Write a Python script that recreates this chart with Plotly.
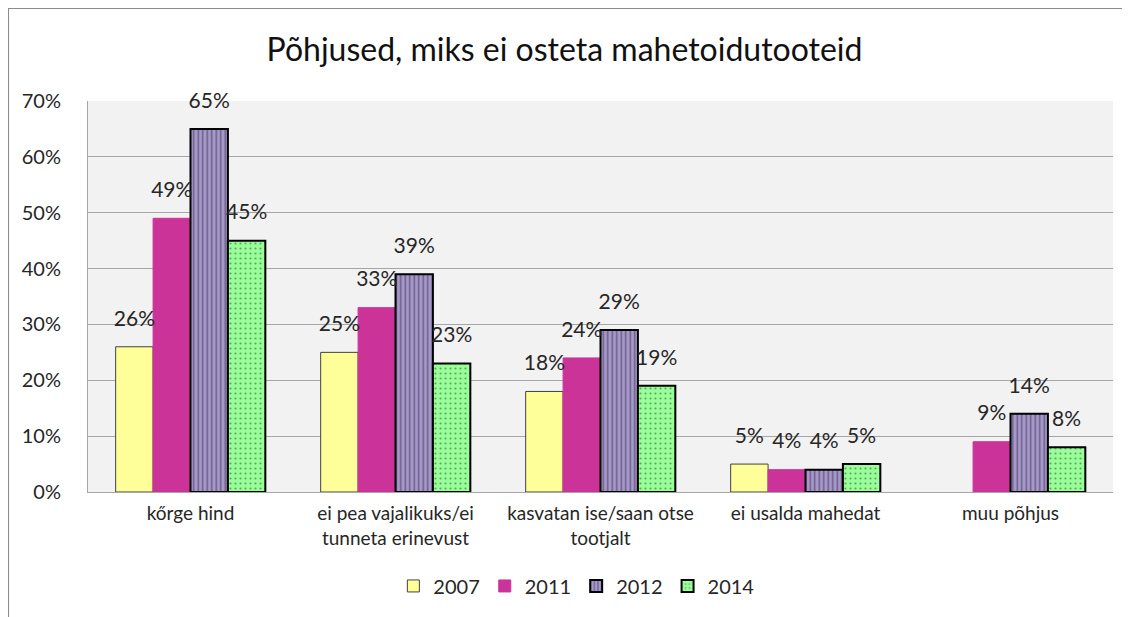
import plotly.graph_objects as go

categories = ["kőrge hind", "ei pea vajalikuks/ei<br>tunneta erinevust",
              "kasvatan ise/saan otse<br>tootjalt", "ei usalda mahedat", "muu põhjus"]
years = ["2007", "2011", "2012", "2014"]
v2007 = [0.26, 0.25, 0.18, 0.05, None]
v2011 = [0.49, 0.33, 0.24, 0.04, 0.09]
v2012 = [0.65, 0.39, 0.29, 0.04, 0.14]
v2014 = [0.45, 0.23, 0.19, 0.05, 0.08]
title = "Põhjused, miks ei osteta mahetoidutooteid"

FONT = "Lato"
TXT = "#262626"

series = [
    (years[0], v2007, dict(color="#FFFF99", line=dict(color="#404040", width=1))),
    (years[1], v2011, dict(color="#CC3399", line=dict(color="#CC3399", width=1))),
    (years[2], v2012, dict(color="#A899CC", line=dict(color="#000000", width=2),
                           pattern=dict(shape="|", fgcolor="#2E2640", size=4.5, solidity=0.35))),
    (years[3], v2014, dict(color="#99FF99", line=dict(color="#000000", width=2),
                           pattern=dict(shape=".", fgcolor="#1E4A1E", size=5, solidity=0.15))),
]

fig = go.Figure()
for name, vals, marker in series:
    fig.add_trace(go.Bar(x=categories, y=vals, name=name, marker=marker, hoverinfo="y"))

# data labels: invisible markers grouped like the bars, text placed above them
for name, vals, _ in series:
    fig.add_trace(go.Scatter(
        x=categories, y=vals, orientation="v", mode="markers+text",
        marker=dict(size=24, opacity=0), showlegend=False, hoverinfo="skip",
        text=[None if v is None else f"{round(v*100)}%" for v in vals],
        textposition="top center", cliponaxis=False,
        textfont=dict(family=FONT, size=21, color=TXT),
    ))

# page body has an 8px default margin, so the figure is slightly smaller and margins compensate
fig.update_layout(
    width=1122, height=609,
    margin=dict(l=80, r=17, t=93, b=125, autoexpand=False),
    paper_bgcolor="white", plot_bgcolor="#F2F2F2",
    barmode="group", bargap=0.27, bargroupgap=0,
    scattermode="group", scattergap=0.27,
    title=dict(text=title, x=0.496, xanchor="center", y=0.931, yanchor="middle",
               font=dict(family=FONT, size=32, color="#111111")),
    font=dict(family=FONT, size=19, color=TXT),
    legend=dict(orientation="h", x=0.507, xref="container", xanchor="center",
                y=0.051, yref="container", yanchor="middle",
                font=dict(family=FONT, size=20, color=TXT), traceorder="normal",
                itemwidth=30, tracegroupgap=0),
    showlegend=True,
)
fig.update_yaxes(range=[0, 0.7], dtick=0.1, tickformat=".0%", showgrid=True,
                 gridcolor="#A6A6A6", gridwidth=1, showline=True, linecolor="#A6A6A6",
                 zeroline=False, ticks="", ticklen=0, tickfont=dict(size=20),
                 ticklabelstandoff=22, automargin=False)
fig.update_xaxes(showline=True, linecolor="#A6A6A6", ticks="", tickfont=dict(size=19),
                 ticklabelstandoff=4, automargin=False)

# outer chart frame (top and left edges visible)
fig.add_shape(type="line", xref="paper", yref="paper", x0=-0.078, x1=1.1, y0=1.2376, y1=1.2376,
              line=dict(color="#8C8C8C", width=2))
fig.add_shape(type="line", xref="paper", yref="paper", x0=-0.078, x1=-0.078, y0=1.2376, y1=-0.4,
              line=dict(color="#8C8C8C", width=2))

fig.write_html("out.html")
